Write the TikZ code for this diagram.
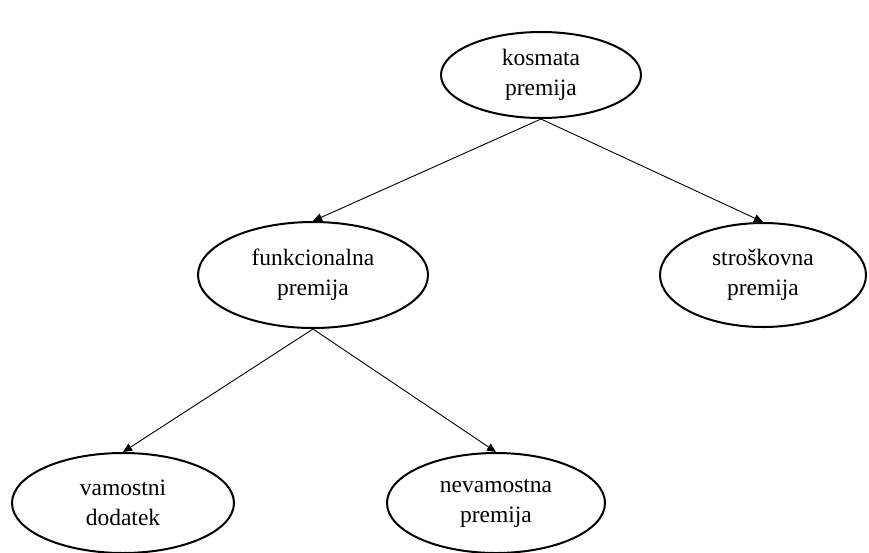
\documentclass[tikz,border=0pt]{standalone}
\usepackage{fontspec}
\setmainfont{Liberation Serif}
\usepackage{tikz}
\usetikzlibrary{arrows.meta, shapes.geometric}
\tikzset{
    premnode/.style={draw=black, ellipse, line width=2pt, inner sep=0pt, align=center,
                     font=\fontsize{23.5}{30}\selectfont},
    premedge/.style={-{Triangle[length=9pt, width=8pt]}, line width=0.9pt}
}

\begin{document}
\begin{tikzpicture}[x=1pt, y=-1pt]
    \useasboundingbox (0,0) rectangle (869,552);

    % levels of the premium tree
    \node[premnode, minimum width=200pt, minimum height=86pt] (kosmata) at (541,75) {kosmata\\premija};
    \node[premnode, minimum width=230pt, minimum height=106pt] (funk) at (313,275) {funkcionalna\\premija};
    \node[premnode, minimum width=206pt, minimum height=104pt] (strosk) at (763,275) {stroškovna\\premija};
    \node[premnode, minimum width=222pt, minimum height=100pt] (vam) at (123,503) {vamostni\\dodatek};
    \node[premnode, minimum width=218pt, minimum height=100pt] (nevam) at (496,503) {nevamostna\\premija};

    % connectors
    \draw[premedge] (kosmata.south) -- (funk.north);
    \draw[premedge] (kosmata.south) -- (strosk.north);
    \draw[premedge] (funk.south) -- (vam.north);
    \draw[premedge] (funk.south) -- (nevam.north);
\end{tikzpicture}
\end{document}
